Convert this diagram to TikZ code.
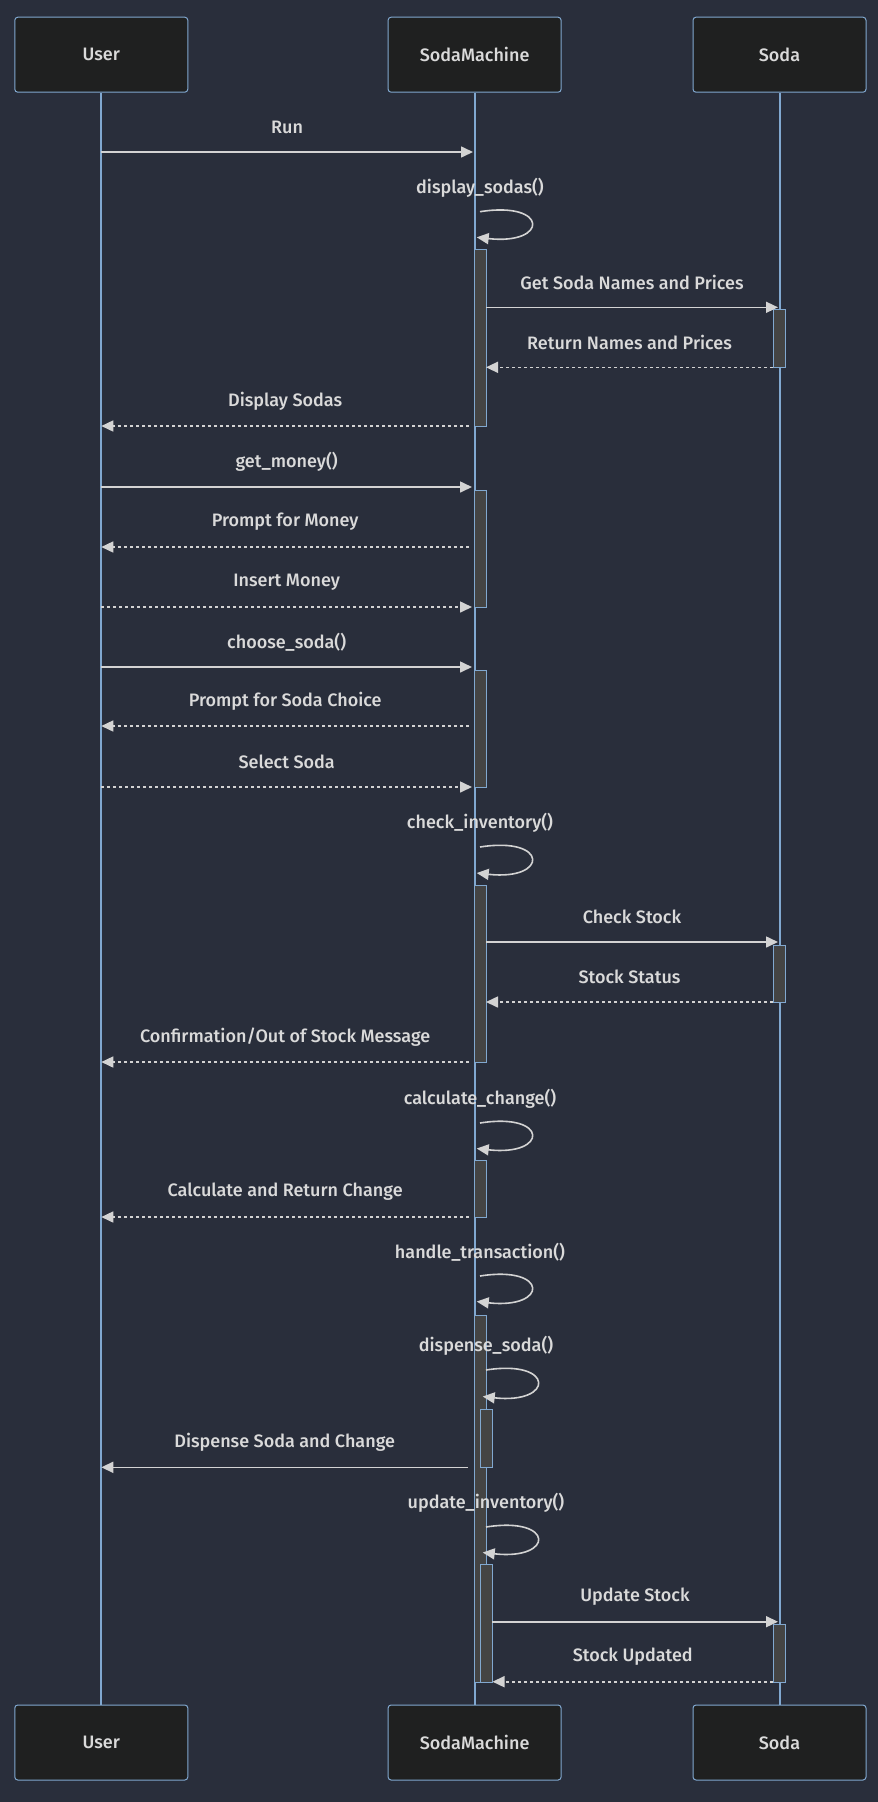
\documentclass[tikz,border=0pt]{standalone}
\usepackage{fontspec}
\setmainfont{Fira Sans}[UprightFont={* Medium}]
\usetikzlibrary{arrows.meta,positioning,calc}
\definecolor{bgcol}{HTML}{292E3B}
\definecolor{actfill}{HTML}{1F2020}
\definecolor{lifecol}{HTML}{81A8D0}
\definecolor{txtcol}{HTML}{DADADA}
\definecolor{msgcol}{HTML}{D3D3D3}
\definecolor{barfill}{HTML}{444444}

\begin{document}
\begin{tikzpicture}[x=1pt,y=-1pt,>={Triangle[length=12pt,width=11pt]},font=\fontsize{18}{21}\selectfont]
	\tikzset{
		actor/.style={draw=lifecol,fill=actfill,rounded corners=3pt,minimum width=173pt,minimum height=75pt,text=txtcol,line width=1pt},
		life/.style={draw=lifecol,line width=2pt},
		bar/.style={draw=lifecol,fill=barfill,line width=1pt,minimum width=12pt,inner sep=0pt,anchor=north west},
		msg/.style={draw=msgcol,fill=none,line width=1.6pt,->},
		reply/.style={msg,dash pattern=on 3pt off 3pt},
		lbl/.style={text=txtcol,inner sep=1pt}
	}
	\fill[bgcol] (0,0) rectangle (878,1802);
	\useasboundingbox (0,0) rectangle (878,1802);
	
	% actors
	\node[actor] (U1) at (101.3,54.7) {User};
	\node[actor] (M1) at (474.6,54.7) {SodaMachine};
	\node[actor] (S1) at (779.5,54.7) {Soda};
	\node[actor] (U2) at (101.3,1742.5) {User};
	\node[actor] (M2) at (474.6,1742.5) {SodaMachine};
	\node[actor] (S2) at (779.5,1742.5) {Soda};
	
	\draw[life] (U1.south) -- (U2.north);
	\draw[life] (M1.south) -- (M2.north);
	\draw[life] (S1.south) -- (S2.north);
	
	% activation bars
	\node[bar,minimum height=177pt] (A1) at (474,249) {};
	\node[bar,minimum height=58pt] (B1) at (773,309.3) {};
	\node[bar,minimum height=117pt] (A2) at (474,490) {};
	\node[bar,minimum height=117pt] (A3) at (474,670) {};
	\node[bar,minimum height=177pt] (A4) at (474,885) {};
	\node[bar,minimum height=57pt] (B2) at (773,945) {};
	\node[bar,minimum height=57pt] (A5) at (474,1160) {};
	\node[bar,minimum height=367pt] (A6) at (474,1314.5) {};
	\node[bar,minimum height=58pt] (A7) at (480,1409.3) {};
	\node[bar,minimum height=117.4pt] (A8) at (480,1564.3) {};
	\node[bar,minimum height=57.4pt] (B3) at (773,1624.3) {};
	
	% end points
	\coordinate (m1s) at (101.3,152); \coordinate (m1e) at (473,152);
	\coordinate (l1s) at (480,211.7); \coordinate (l1e) at (476.7,237.3);
	\coordinate (m2s) at (486,307.3); \coordinate (m2e) at (778,307.3);
	\coordinate (m3s) at (773,367.3); \coordinate (m3e) at (486,367.3);
	\coordinate (m4s) at (469,426); \coordinate (m4e) at (101.3,426);
	\coordinate (m5s) at (101.3,487); \coordinate (m5e) at (472,487);
	\coordinate (m6s) at (469,547); \coordinate (m6e) at (101.3,547);
	\coordinate (m7s) at (101.3,607); \coordinate (m7e) at (472,607);
	\coordinate (m8s) at (101.3,667); \coordinate (m8e) at (472,667);
	\coordinate (m9s) at (469,726); \coordinate (m9e) at (101.3,726);
	\coordinate (m10s) at (101.3,787); \coordinate (m10e) at (472,787);
	\coordinate (l2s) at (480,847); \coordinate (l2e) at (476.7,873);
	\coordinate (m11s) at (486,942); \coordinate (m11e) at (778,942);
	\coordinate (m12s) at (773,1002); \coordinate (m12e) at (486,1002);
	\coordinate (m13s) at (469,1062); \coordinate (m13e) at (101.3,1062);
	\coordinate (l3s) at (480,1123); \coordinate (l3e) at (476.7,1148.5);
	\coordinate (m14s) at (469,1217); \coordinate (m14e) at (101.3,1217);
	\coordinate (l4s) at (480,1276); \coordinate (l4e) at (476.7,1301.5);
	\coordinate (l5s) at (486,1370); \coordinate (l5e) at (482.7,1396.5);
	\coordinate (m15s) at (468,1467.3); \coordinate (m15e) at (101.3,1467.3);
	\coordinate (l6s) at (486,1527); \coordinate (l6e) at (482.7,1552.5);
	\coordinate (m16s) at (492,1621.7); \coordinate (m16e) at (778,1621.7);
	\coordinate (m17s) at (773,1681.7); \coordinate (m17e) at (492.5,1681.7);
	
	% messages
	\draw[msg] (m1s) -- node[lbl,midway,yshift=25pt] (t1) {Run} (m1e);
	\draw[msg] (l1s) .. controls ($(l1s)+(69,-11)$) and ($(l1e)+(72,8)$) .. (l1e);
	\node[lbl] (t2) at ($(l1s)+(0,-24)$) {display\_sodas()};
	\draw[msg] (m2s) -- node[lbl,midway,yshift=25pt] (t3) {Get Soda Names and Prices} (m2e);
	\draw[reply] (m3s) -- node[lbl,midway,yshift=25pt] (t4) {Return Names and Prices} (m3e);
	\draw[reply] (m4s) -- node[lbl,midway,yshift=25pt] (t5) {Display Sodas} (m4e);
	\draw[msg] (m5s) -- node[lbl,midway,yshift=25pt] (t6) {get\_money()} (m5e);
	\draw[reply] (m6s) -- node[lbl,midway,yshift=25pt] (t7) {Prompt for Money} (m6e);
	\draw[reply] (m7s) -- node[lbl,midway,yshift=25pt] (t8) {Insert Money} (m7e);
	\draw[msg] (m8s) -- node[lbl,midway,yshift=25pt] (t9) {choose\_soda()} (m8e);
	\draw[reply] (m9s) -- node[lbl,midway,yshift=25pt] (t10) {Prompt for Soda Choice} (m9e);
	\draw[reply] (m10s) -- node[lbl,midway,yshift=25pt] (t11) {Select Soda} (m10e);
	\draw[msg] (l2s) .. controls ($(l2s)+(69,-11)$) and ($(l2e)+(72,8)$) .. (l2e);
	\node[lbl] (t12) at ($(l2s)+(0,-24)$) {check\_inventory()};
	\draw[msg] (m11s) -- node[lbl,midway,yshift=25pt] (t13) {Check Stock} (m11e);
	\draw[reply] (m12s) -- node[lbl,midway,yshift=25pt] (t14) {Stock Status} (m12e);
	\draw[reply] (m13s) -- node[lbl,midway,yshift=25pt] (t15) {Confirmation/Out of Stock Message} (m13e);
	\draw[msg] (l3s) .. controls ($(l3s)+(69,-11)$) and ($(l3e)+(72,8)$) .. (l3e);
	\node[lbl] (t16) at ($(l3s)+(0,-24)$) {calculate\_change()};
	\draw[reply] (m14s) -- node[lbl,midway,yshift=25pt] (t17) {Calculate and Return Change} (m14e);
	\draw[msg] (l4s) .. controls ($(l4s)+(69,-11)$) and ($(l4e)+(72,8)$) .. (l4e);
	\node[lbl] (t18) at ($(l4s)+(0,-24)$) {handle\_transaction()};
	\draw[msg] (l5s) .. controls ($(l5s)+(69,-11)$) and ($(l5e)+(72,8)$) .. (l5e);
	\node[lbl] (t19) at ($(l5s)+(0,-24)$) {dispense\_soda()};
	\draw[msg] (m15s) -- node[lbl,midway,yshift=25pt] (t20) {Dispense Soda and Change} (m15e);
	\draw[msg] (l6s) .. controls ($(l6s)+(69,-11)$) and ($(l6e)+(72,8)$) .. (l6e);
	\node[lbl] (t21) at ($(l6s)+(0,-24)$) {update\_inventory()};
	\draw[msg] (m16s) -- node[lbl,midway,yshift=25pt] (t22) {Update Stock} (m16e);
	\draw[reply] (m17s) -- node[lbl,midway,yshift=25pt] (t23) {Stock Updated} (m17e);
\end{tikzpicture}
\end{document}
